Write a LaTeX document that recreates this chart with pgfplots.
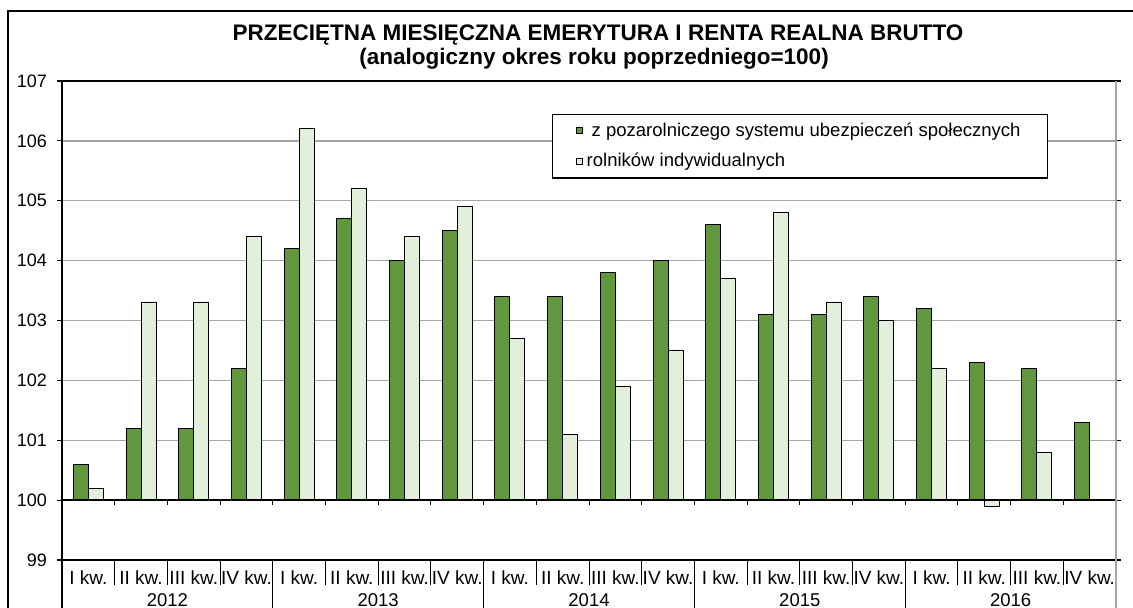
\documentclass[border=0pt]{standalone}
\usepackage{fontspec}
\setmainfont{Liberation Sans}
\usepackage{pgfplots}
\pgfplotsset{compat=1.18}
\definecolor{darkg}{RGB}{97,152,61}
\definecolor{lightg}{RGB}{226,239,218}
\definecolor{gridc}{RGB}{165,165,165}
\begin{document}
\begin{tikzpicture}
\useasboundingbox (0,0) rectangle (566.5pt,303.5pt);
\draw[line width=0.8pt] (4pt,-5pt) -- (4pt,298pt) -- (580pt,298pt);
\node[anchor=base,font=\bfseries\fontsize{11.25}{13}\selectfont] at (299pt,283.5pt) {PRZECIĘTNA MIESIĘCZNA EMERYTURA I RENTA REALNA BRUTTO};
\node[anchor=base,font=\bfseries\fontsize{11.25}{13}\selectfont] at (297pt,271.5pt) {(analogiczny okres roku poprzedniego=100)};
\begin{axis}[
  at={(31pt,23.5pt)}, anchor=south west,
  scale only axis, width=527pt, height=239.5pt,
  xmin=-0.5, xmax=19.5, ymin=-1, ymax=7,
  ybar=0pt, bar width=7.5pt,
  y filter/.expression={y-100},
  axis line style={draw=none},
  font=\fontsize{9}{11}\selectfont,
  /pgf/number format/assume math mode=true,
  ytick={-1,0,...,7},
  yticklabels={99,100,101,102,103,104,105,106,107},
  yticklabel style={xshift=-1.5pt},
  ymajorgrids, major grid style={gridc, line width=0.7pt},
  y tick style={black, line width=0.6pt},
  tick align=outside, major tick length=2.5pt,
  xtick={0,...,19},
  xticklabels={I kw.,II kw.,III kw.,IV kw.,I kw.,II kw.,III kw.,IV kw.,I kw.,II kw.,III kw.,IV kw.,I kw.,II kw.,III kw.,IV kw.,I kw.,II kw.,III kw.,IV kw.},
  x tick style={draw=none},
  xticklabel style={anchor=base, yshift=-9.5pt, font=\fontsize{9.5}{11}\selectfont},
  every axis plot/.append style={draw=black, line width=0.5pt},
  legend image code/.code={\draw[#1,draw=black,line width=0.5pt] (0pt,-1.5pt) rectangle (3pt,1.5pt);},
  legend style={at={(0.465,0.931)}, anchor=north west, draw=black, line width=0.6pt, fill=white,
    font=\fontsize{9.25}{11}\selectfont, row sep=3pt, inner xsep=11.5pt, inner ysep=2pt,
    cells={anchor=west}},
  after end axis/.code={
    \draw[black, line width=0.8pt] (rel axis cs:0,1) -- (rel axis cs:1,1);
    \draw[black, line width=0.8pt] (rel axis cs:0,0) -- (rel axis cs:1,0);
    \draw[black, line width=0.8pt] (axis cs:-0.5,0) -- (axis cs:19.5,0);
    \draw[black, line width=0.9pt] (rel axis cs:0,1) -- (rel axis cs:0,0) -- ++(0,-30pt);
    \draw[gridc, line width=0.8pt] (rel axis cs:1,1) -- (rel axis cs:1,0) -- ++(0,-30pt);
    \foreach \k [evaluate=\k as \xx using \k+0.5] in {0,...,18} {
      \draw[black, line width=0.5pt] (axis cs:\xx,0) -- ++(0,-2.5pt);
      \draw[black, line width=0.5pt] (axis cs:\xx,-1) -- ++(0,-12.5pt);
    }
    \foreach \xx in {3.5,7.5,11.5,15.5} {
      \draw[black, line width=0.5pt] (axis cs:\xx,-1) -- ++(0,-30pt);
    }
    \node[anchor=base, yshift=-23pt, font=\fontsize{9.25}{11}\selectfont] at (axis cs:1.5,-1) {2012};
    \node[anchor=base, yshift=-23pt, font=\fontsize{9.25}{11}\selectfont] at (axis cs:5.5,-1) {2013};
    \node[anchor=base, yshift=-23pt, font=\fontsize{9.25}{11}\selectfont] at (axis cs:9.5,-1) {2014};
    \node[anchor=base, yshift=-23pt, font=\fontsize{9.25}{11}\selectfont] at (axis cs:13.5,-1) {2015};
    \node[anchor=base, yshift=-23pt, font=\fontsize{9.25}{11}\selectfont] at (axis cs:17.5,-1) {2016};
  },
]
\addplot[fill=darkg] coordinates {
(0,100.6) (1,101.2) (2,101.2) (3,102.2)
(4,104.2) (5,104.7) (6,104.0) (7,104.5)
(8,103.4) (9,103.4) (10,103.8) (11,104.0)
(12,104.6) (13,103.1) (14,103.1) (15,103.4)
(16,103.2) (17,102.3) (18,102.2) (19,101.3)};
\addlegendentry{\hspace{2.5pt}z pozarolniczego systemu ubezpieczeń społecznych}
\addplot[fill=lightg] coordinates {
(0,100.2) (1,103.3) (2,103.3) (3,104.4)
(4,106.2) (5,105.2) (6,104.4) (7,104.9)
(8,102.7) (9,101.1) (10,101.9) (11,102.5)
(12,103.7) (13,104.8) (14,103.3) (15,103.0)
(16,102.2) (17,99.9) (18,100.8)};
\addlegendentry{rolników indywidualnych}
\end{axis}
\end{tikzpicture}
\end{document}
